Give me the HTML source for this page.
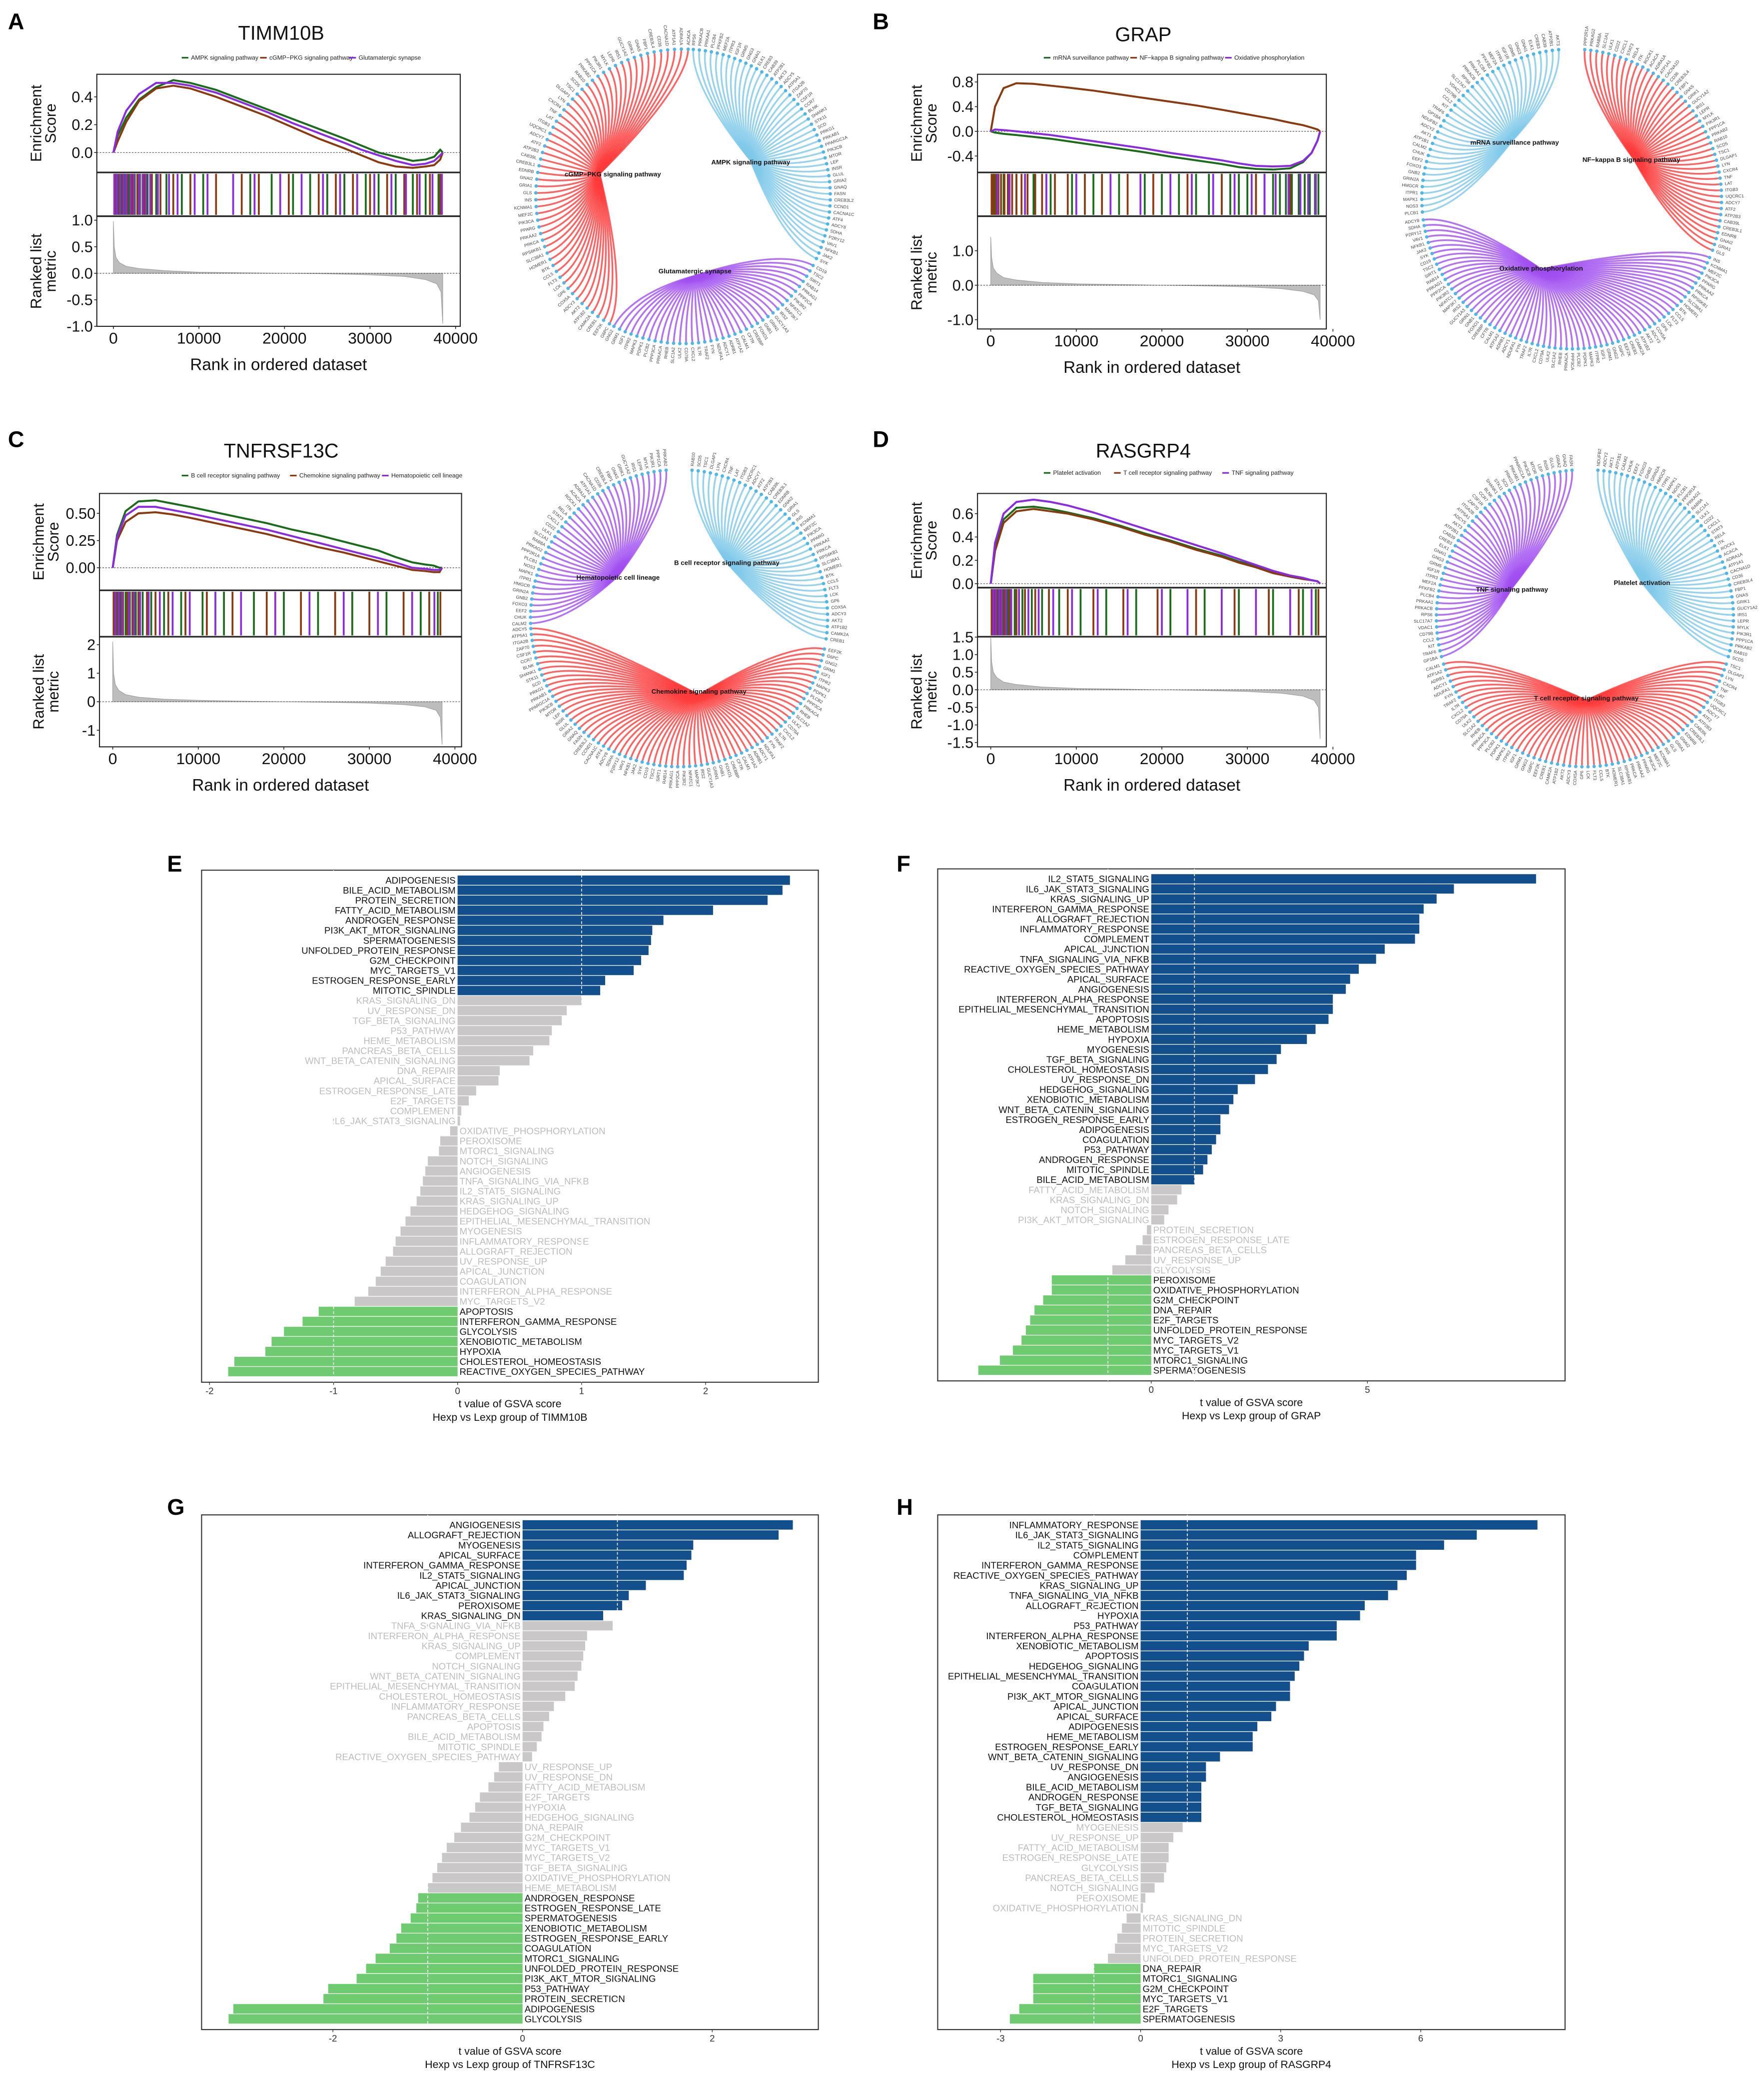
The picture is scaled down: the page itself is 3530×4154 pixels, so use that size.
<!DOCTYPE html>
<html><head><meta charset="utf-8"><title>GSEA and GSVA figure</title>
<style>
html,body{margin:0;padding:0;background:#fff;}
svg{display:block;font-family:"Liberation Sans Narrow","Liberation Sans",sans-serif;}
</style></head>
<body>
<svg id="fig" xmlns="http://www.w3.org/2000/svg" width="3530" height="4154" viewBox="0 0 1330 1565" preserveAspectRatio="none">
<rect x="0" y="0" width="1330" height="1565" fill="#fff"/>
<g font-family="Liberation Sans, sans-serif" font-weight="bold" font-size="17">
<text x="6" y="22">A</text>
<text x="658" y="22">B</text>
<text x="6" y="337">C</text>
<text x="658" y="337">D</text>
<text x="126" y="657">E</text>
<text x="676" y="657">F</text>
<text x="126" y="1142">G</text>
<text x="676" y="1142">H</text>
</g>
</svg>
<script>
// ---------- GSEA data ----------
const esRanks=[0,500,1500,3000,5000,7000,9000,12000,15000,18000,21000,24000,27000,29000,31000,33000,35000,36500,37500,38200,38500];
const metricRanks=[0,100,300,700,1500,3000,6000,10000,15000,20000,25000,30000,34000,36500,37800,38300,38500];
const tickRanks=[0,10000,20000,30000,40000];

const esA_green=[0,0.12,0.25,0.38,0.47,0.52,0.5,0.45,0.38,0.31,0.24,0.17,0.1,0.05,0.0,-0.03,-0.06,-0.05,-0.03,0.02,0];
const esA_brown=[0,0.08,0.22,0.37,0.46,0.48,0.46,0.4,0.33,0.26,0.18,0.1,0.03,-0.02,-0.07,-0.1,-0.11,-0.1,-0.09,-0.05,0];
const esA_purple=[0,0.15,0.3,0.42,0.5,0.5,0.48,0.43,0.36,0.29,0.21,0.14,0.07,0.02,-0.02,-0.06,-0.09,-0.08,-0.06,-0.02,0];
const esB_green=[0,-0.02,-0.04,-0.06,-0.09,-0.12,-0.16,-0.22,-0.28,-0.34,-0.41,-0.47,-0.53,-0.58,-0.61,-0.62,-0.6,-0.5,-0.35,-0.15,0];
const esB_brown=[0,0.4,0.7,0.78,0.77,0.74,0.71,0.66,0.6,0.54,0.48,0.42,0.35,0.3,0.25,0.2,0.14,0.1,0.06,0.03,0];
const esB_purple=[0,0.03,0.02,0.0,-0.03,-0.06,-0.1,-0.16,-0.22,-0.28,-0.35,-0.41,-0.47,-0.52,-0.56,-0.57,-0.56,-0.48,-0.35,-0.15,0];
const esC_green=[0,0.3,0.52,0.61,0.62,0.59,0.56,0.51,0.46,0.41,0.35,0.3,0.24,0.2,0.16,0.1,0.05,0.03,0.02,0.0,0];
const esC_brown=[0,0.25,0.42,0.5,0.51,0.49,0.46,0.41,0.36,0.31,0.25,0.19,0.14,0.1,0.06,0.02,-0.02,-0.03,-0.04,-0.04,0];
const esC_purple=[0,0.28,0.48,0.56,0.56,0.53,0.5,0.45,0.4,0.35,0.29,0.23,0.17,0.13,0.09,0.05,0.0,-0.01,-0.02,-0.02,0];
const esD_green=[0,0.3,0.55,0.65,0.66,0.64,0.61,0.56,0.5,0.43,0.37,0.3,0.24,0.19,0.15,0.1,0.06,0.04,0.03,0.02,0];
const esD_brown=[0,0.28,0.52,0.62,0.64,0.62,0.6,0.55,0.49,0.42,0.36,0.29,0.23,0.18,0.14,0.09,0.06,0.04,0.03,0.02,0];
const esD_purple=[0,0.35,0.6,0.7,0.72,0.7,0.67,0.61,0.54,0.47,0.4,0.33,0.26,0.21,0.16,0.11,0.07,0.05,0.03,0.02,0];

// hit positions, thousands of ranks
const hitA_green=[0.2,0.5,0.9,1.3,1.8,2.5,3.1,4,5,6.2,8,10.5,16,18.5,21,23,25,27,29.5,31,33,35,36.5,38];
const hitA_brown=[0.3,0.7,1.1,1.6,2.2,2.8,3.6,4.5,5.5,7,9,12,15,17,20.5,24,26,28,30,32,34,35.5,37,38.2];
const hitA_purple=[0.1,0.4,0.8,1.2,1.5,2,2.4,3,3.4,3.8,4.3,5.2,6.5,7.5,9.5,11,14,16.5,19.5,22,24.5,26.5,28.5,30.5,32.5,34.2,35.8,37.3,38.4];
const hitB_green=[0.4,1.5,3,5,7,9.5,12,15,18,20,22,24,25.5,27,28,29,30,31,32,33,33.8,34.5,35.2,36,36.7,37.3,37.9,38.3];
const hitB_brown=[0.1,0.3,0.6,0.9,1.2,1.6,2,2.5,3,3.6,4.3,5.2,6,7.5,9,11,13,16,19,23,27,31,35,38];
const hitB_purple=[0.8,2.2,4,6.5,10,14,17.5,21,23.5,26,28.5,30.5,32,33.3,34.8,36.2,37.1,38];
const hitC_green=[0.2,0.6,1,1.5,2,2.7,3.5,4.5,6,8,10.5,13,16.5,20,24,28,32,36,38];
const hitC_brown=[0.1,0.4,0.8,1.2,1.7,2.3,3,4,5,6.5,8.5,11,14,18,22,26,30,34,37,38.3];
const hitC_purple=[0.3,0.7,1.1,1.9,2.5,3.2,4.2,5.5,7,9,12,15,19,23,27,31,35,37.6];
const hitD_green=[0.2,0.5,0.9,1.4,2,2.8,3.7,4.8,6,8,10.5,13.5,17,21,25,29,33,36.5,38];
const hitD_brown=[0.1,0.4,0.7,1.1,1.6,2.2,3,4,5.2,6.8,9,12,15.5,19.5,24,28.5,32.5,36,38.3];
const hitD_purple=[0.3,0.6,1,1.3,1.8,2.4,3.3,4.4,5.6,7.3,9.5,12.5,16,20,23,27,31,35,37.5];

const metricA=[0.98,0.5,0.3,0.2,0.13,0.09,0.05,0.02,0.01,0,-0.01,-0.03,-0.06,-0.12,-0.2,-0.35,-0.95];
const metricB=[1.4,0.8,0.5,0.35,0.22,0.15,0.08,0.04,0.02,0,-0.02,-0.05,-0.1,-0.18,-0.28,-0.45,-1.0];
const metricC=[2.1,1.0,0.6,0.4,0.25,0.16,0.09,0.05,0.02,0,-0.02,-0.05,-0.1,-0.18,-0.3,-0.55,-1.5];
const metricD=[1.5,0.8,0.5,0.35,0.22,0.15,0.08,0.04,0.02,0,-0.02,-0.05,-0.1,-0.18,-0.3,-0.5,-1.4];

const esTicksA=[0.0,0.2,0.4], esTicksB=[-0.4,0.0,0.4,0.8], esTicksC=[0.0,0.25,0.5], esTicksD=[0.0,0.2,0.4,0.6];
const mTicksA=[-1.0,-0.5,0.0,0.5,1.0], mTicksB=[-1.0,0.0,1.0], mTicksC=[-1,0,1,2], mTicksD=[-1.5,-1.0,-0.5,0.0,0.5,1.0,1.5];

// ---------- GSVA bar data ----------
const namesE=["ADIPOGENESIS","BILE_ACID_METABOLISM","PROTEIN_SECRETION","FATTY_ACID_METABOLISM","ANDROGEN_RESPONSE","PI3K_AKT_MTOR_SIGNALING","SPERMATOGENESIS","UNFOLDED_PROTEIN_RESPONSE","G2M_CHECKPOINT","MYC_TARGETS_V1","ESTROGEN_RESPONSE_EARLY","MITOTIC_SPINDLE","KRAS_SIGNALING_DN","UV_RESPONSE_DN","TGF_BETA_SIGNALING","P53_PATHWAY","HEME_METABOLISM","PANCREAS_BETA_CELLS","WNT_BETA_CATENIN_SIGNALING","DNA_REPAIR","APICAL_SURFACE","ESTROGEN_RESPONSE_LATE","E2F_TARGETS","COMPLEMENT","IL6_JAK_STAT3_SIGNALING","OXIDATIVE_PHOSPHORYLATION","PEROXISOME","MTORC1_SIGNALING","NOTCH_SIGNALING","ANGIOGENESIS","TNFA_SIGNALING_VIA_NFKB","IL2_STAT5_SIGNALING","KRAS_SIGNALING_UP","HEDGEHOG_SIGNALING","EPITHELIAL_MESENCHYMAL_TRANSITION","MYOGENESIS","INFLAMMATORY_RESPONSE","ALLOGRAFT_REJECTION","UV_RESPONSE_UP","APICAL_JUNCTION","COAGULATION","INTERFERON_ALPHA_RESPONSE","MYC_TARGETS_V2","APOPTOSIS","INTERFERON_GAMMA_RESPONSE","GLYCOLYSIS","XENOBIOTIC_METABOLISM","HYPOXIA","CHOLESTEROL_HOMEOSTASIS","REACTIVE_OXYGEN_SPECIES_PATHWAY"];
const valuesE=[2.68,2.62,2.5,2.06,1.66,1.57,1.56,1.54,1.48,1.42,1.19,1.15,1.0,0.88,0.84,0.76,0.74,0.61,0.58,0.34,0.33,0.15,0.09,0.03,0.02,-0.06,-0.14,-0.15,-0.24,-0.26,-0.28,-0.3,-0.33,-0.38,-0.42,-0.46,-0.5,-0.52,-0.58,-0.62,-0.66,-0.72,-0.83,-1.12,-1.25,-1.4,-1.5,-1.55,-1.8,-1.85];
const nUpE=12, nDownE=7, ticksE=[-2,-1,0,1,2];

const namesF=["IL2_STAT5_SIGNALING","IL6_JAK_STAT3_SIGNALING","KRAS_SIGNALING_UP","INTERFERON_GAMMA_RESPONSE","ALLOGRAFT_REJECTION","INFLAMMATORY_RESPONSE","COMPLEMENT","APICAL_JUNCTION","TNFA_SIGNALING_VIA_NFKB","REACTIVE_OXYGEN_SPECIES_PATHWAY","APICAL_SURFACE","ANGIOGENESIS","INTERFERON_ALPHA_RESPONSE","EPITHELIAL_MESENCHYMAL_TRANSITION","APOPTOSIS","HEME_METABOLISM","HYPOXIA","MYOGENESIS","TGF_BETA_SIGNALING","CHOLESTEROL_HOMEOSTASIS","UV_RESPONSE_DN","HEDGEHOG_SIGNALING","XENOBIOTIC_METABOLISM","WNT_BETA_CATENIN_SIGNALING","ESTROGEN_RESPONSE_EARLY","ADIPOGENESIS","COAGULATION","P53_PATHWAY","ANDROGEN_RESPONSE","MITOTIC_SPINDLE","BILE_ACID_METABOLISM","FATTY_ACID_METABOLISM","KRAS_SIGNALING_DN","NOTCH_SIGNALING","PI3K_AKT_MTOR_SIGNALING","PROTEIN_SECRETION","ESTROGEN_RESPONSE_LATE","PANCREAS_BETA_CELLS","UV_RESPONSE_UP","GLYCOLYSIS","PEROXISOME","OXIDATIVE_PHOSPHORYLATION","G2M_CHECKPOINT","DNA_REPAIR","E2F_TARGETS","UNFOLDED_PROTEIN_RESPONSE","MYC_TARGETS_V2","MYC_TARGETS_V1","MTORC1_SIGNALING","SPERMATOGENESIS"];
const valuesF=[8.9,7.0,6.6,6.3,6.2,6.2,6.1,5.4,5.2,4.8,4.6,4.5,4.2,4.2,4.1,3.8,3.6,3.0,2.9,2.7,2.4,2.0,1.9,1.8,1.6,1.6,1.5,1.4,1.3,1.2,1.0,0.7,0.6,0.4,0.3,-0.1,-0.2,-0.35,-0.6,-0.9,-2.3,-2.3,-2.5,-2.7,-2.8,-2.9,-3.0,-3.2,-3.5,-4.0];
const nUpF=31, nDownF=10, ticksF=[0,5];

const namesG=["ANGIOGENESIS","ALLOGRAFT_REJECTION","MYOGENESIS","APICAL_SURFACE","INTERFERON_GAMMA_RESPONSE","IL2_STAT5_SIGNALING","APICAL_JUNCTION","IL6_JAK_STAT3_SIGNALING","PEROXISOME","KRAS_SIGNALING_DN","TNFA_SIGNALING_VIA_NFKB","INTERFERON_ALPHA_RESPONSE","KRAS_SIGNALING_UP","COMPLEMENT","NOTCH_SIGNALING","WNT_BETA_CATENIN_SIGNALING","EPITHELIAL_MESENCHYMAL_TRANSITION","CHOLESTEROL_HOMEOSTASIS","INFLAMMATORY_RESPONSE","PANCREAS_BETA_CELLS","APOPTOSIS","BILE_ACID_METABOLISM","MITOTIC_SPINDLE","REACTIVE_OXYGEN_SPECIES_PATHWAY","UV_RESPONSE_UP","UV_RESPONSE_DN","FATTY_ACID_METABOLISM","E2F_TARGETS","HYPOXIA","HEDGEHOG_SIGNALING","DNA_REPAIR","G2M_CHECKPOINT","MYC_TARGETS_V1","MYC_TARGETS_V2","TGF_BETA_SIGNALING","OXIDATIVE_PHOSPHORYLATION","HEME_METABOLISM","ANDROGEN_RESPONSE","ESTROGEN_RESPONSE_LATE","SPERMATOGENESIS","XENOBIOTIC_METABOLISM","ESTROGEN_RESPONSE_EARLY","COAGULATION","MTORC1_SIGNALING","UNFOLDED_PROTEIN_RESPONSE","PI3K_AKT_MTOR_SIGNALING","P53_PATHWAY","PROTEIN_SECRETION","ADIPOGENESIS","GLYCOLYSIS"];
const valuesG=[2.85,2.7,1.8,1.78,1.73,1.7,1.3,1.12,1.05,0.85,0.95,0.68,0.66,0.64,0.62,0.58,0.55,0.45,0.33,0.28,0.22,0.2,0.15,0.1,-0.25,-0.3,-0.36,-0.45,-0.5,-0.56,-0.65,-0.72,-0.8,-0.85,-0.9,-0.95,-1.0,-1.1,-1.12,-1.18,-1.28,-1.33,-1.4,-1.55,-1.65,-1.75,-2.05,-2.1,-3.05,-3.1];
const nUpG=10, nDownG=13, ticksG=[-2,0,2];

const namesH=["INFLAMMATORY_RESPONSE","IL6_JAK_STAT3_SIGNALING","IL2_STAT5_SIGNALING","COMPLEMENT","INTERFERON_GAMMA_RESPONSE","REACTIVE_OXYGEN_SPECIES_PATHWAY","KRAS_SIGNALING_UP","TNFA_SIGNALING_VIA_NFKB","ALLOGRAFT_REJECTION","HYPOXIA","P53_PATHWAY","INTERFERON_ALPHA_RESPONSE","XENOBIOTIC_METABOLISM","APOPTOSIS","HEDGEHOG_SIGNALING","EPITHELIAL_MESENCHYMAL_TRANSITION","COAGULATION","PI3K_AKT_MTOR_SIGNALING","APICAL_JUNCTION","APICAL_SURFACE","ADIPOGENESIS","HEME_METABOLISM","ESTROGEN_RESPONSE_EARLY","WNT_BETA_CATENIN_SIGNALING","UV_RESPONSE_DN","ANGIOGENESIS","BILE_ACID_METABOLISM","ANDROGEN_RESPONSE","TGF_BETA_SIGNALING","CHOLESTEROL_HOMEOSTASIS","MYOGENESIS","UV_RESPONSE_UP","FATTY_ACID_METABOLISM","ESTROGEN_RESPONSE_LATE","GLYCOLYSIS","PANCREAS_BETA_CELLS","NOTCH_SIGNALING","PEROXISOME","OXIDATIVE_PHOSPHORYLATION","KRAS_SIGNALING_DN","MITOTIC_SPINDLE","PROTEIN_SECRETION","MYC_TARGETS_V2","UNFOLDED_PROTEIN_RESPONSE","DNA_REPAIR","MTORC1_SIGNALING","G2M_CHECKPOINT","MYC_TARGETS_V1","E2F_TARGETS","SPERMATOGENESIS"];
const valuesH=[8.5,7.2,6.5,5.9,5.9,5.7,5.5,5.3,4.8,4.7,4.2,4.2,3.6,3.5,3.4,3.3,3.2,3.2,2.9,2.8,2.5,2.4,2.4,1.7,1.4,1.4,1.3,1.3,1.3,1.3,0.9,0.7,0.6,0.6,0.55,0.5,0.3,0.1,0.05,-0.3,-0.4,-0.5,-0.55,-0.7,-1.0,-2.3,-2.3,-2.3,-2.6,-2.8];
const nUpH=30, nDownH=6, ticksH=[-3,0,3,6];

const genePool="ACACA ADCY1 ADCY2 ADCY3 ADCY5 ADCY7 ADCY8 ADRA1A ADRB1 AKT1 AKT2 AKT3 ATF2 ATF4 ATP1A1 ATP1A2 ATP1B1 ATP1B2 ATP2B1 ATP2B3 CACNA1C CACNA1D CALM1 CALM2 CAMK2A CAB39 CAB39L CCND1 CD36 CFTR CHUK CREB1 CREB3 CREB3L1 CREB3L2 CREB3L4 CREBBP EEF2 EEF2K ELK1 EDNRB FASN FBP1 FOXO1 FOXO3 G6PC GNAI1 GNAI2 GNAQ GNAS GNB1 GNB2 GNG2 GNG3 GRIA1 GRIA2 GRIK1 GRIN1 GRIN2A GRM1 GRM5 GLS GLUL GUCY1A2 GUCY1A3 HMGCR IGF1 IGF1R INS INSR IRS1 IRS2 ITPR1 ITPR2 ITPR3 KCNMA1 LEP LEPR MAP3K7 MAPK1 MAPK3 MEF2A MEF2C MTOR MYLK NFATC1 NOS3 PDPK1 PFKFB2 PIK3CA PIK3CB PIK3R1 PIK3R2 PLCB1 PLCB2 PLCB4 PPARG PPARGC1A PPP1CA PPP2CA PPP2R1A PPP3CA PRKAA1 PRKAA2 PRKAB1 PRKAB2 PRKAG1 PRKAG2 PRKACA PRKACB PRKCA PRKG1 RAB10 RAB14 RAB8A RHEB RPS6 RPS6KB1 SCD SCD5 SIRT1 SLC1A1 SLC1A2 SLC17A7 SLC38A1 STK11 TSC1 TSC2 ULK1 ULK2 VDAC1 HOMER1 SHANK1 DLGAP1 CD19 CD22 CD79A CD79B BTK BLNK LYN SYK CXCL1 CXCL2 CCL2 CCL5 CCR7 CXCR4 JAK2 STAT3 IL7R KIT FLT3 CSF1R TNF NFKB1 RELA TRAF2 TRAF6 LCK ZAP70 LAT VAV1 ITK FYN GP1BA GP6 ITGA2B ITGB3 P2RY12 ROCK1 NDUFA1 NDUFB2 COX5A ATP5A1 UQCRC1 SDHA".split(" ");

// ---------- helpers ----------
const NS="http://www.w3.org/2000/svg";
const svg=document.getElementById("fig");
function el(tag,attrs,parent,text){const e=document.createElementNS(NS,tag);for(const k in attrs)e.setAttribute(k,attrs[k]);if(text!==undefined)e.textContent=text;(parent||svg).appendChild(e);return e;}

const COL={green:"#1a6b1a",brown:"#8b3a10",purple:"#8a2be2"};

function gsea(p){
  const g=el("g",{});
  
  
  const xr=r=>p.xa+r/40000*(p.xb-p.xa);
  const ey=v=>p.es0-v*p.esk;
  const my=v=>p.m0-v*p.mk;
  const t=el("text",{x:p.tx,y:p.ty,"font-size":15,"text-anchor":"middle",fill:"#111"},g,p.title);
  
  const lg=el("g",{},g);
  
  let lx=p.tx-p.legW/2;
  p.leg.forEach(([c,name])=>{
    el("line",{x1:lx,y1:p.ly-1.5,x2:lx+5,y2:p.ly-1.5,stroke:COL[c],"stroke-width":1.2},lg);
    const tt=el("text",{x:lx+7,y:p.ly,"font-size":4.6,fill:"#222"},lg,name);
    
    lx+=9+name.length*2.05+5;
  });
  el("rect",{x:p.x0,y:p.top,width:p.x1-p.x0,height:p.bot-p.top,fill:"none",stroke:"#222","stroke-width":0.8},g);
  el("line",{x1:p.x0,x2:p.x1,y1:p.esb,y2:p.esb,stroke:"#222","stroke-width":1.2},g);
  el("line",{x1:p.x0,x2:p.x1,y1:p.hitb,y2:p.hitb,stroke:"#222","stroke-width":1.2},g);
  el("line",{x1:p.x0,x2:p.x1,y1:ey(0),y2:ey(0),stroke:"#555","stroke-width":0.5,"stroke-dasharray":"1.2,1"},g);
  p.hits.forEach(([c,arr])=>arr.forEach(h=>{
    const l=el("line",{x1:xr(h*1000),x2:xr(h*1000),y1:p.esb+1,y2:p.hitb-1,stroke:COL[c],"stroke-width":1.4},g);
    
  }));
  p.es.forEach(([c,arr])=>{
    const pts=arr.map((v,i)=>xr(esRanks[i]).toFixed(2)+","+ey(v).toFixed(2)).join(" ");
    const pl=el("polyline",{points:pts,fill:"none",stroke:COL[c],"stroke-width":1.5},g);
    
  });
  let d="M"+xr(0)+","+my(0);
  p.metric.forEach((v,i)=>{d+=" L"+xr(metricRanks[i]).toFixed(2)+","+my(v).toFixed(2);});
  d+=" L"+xr(metricRanks[metricRanks.length-1])+","+my(0)+" Z";
  const ar=el("path",{d:d,fill:"#bdbdbd",stroke:"#9a9a9a","stroke-width":0.4},g);
  
  el("line",{x1:p.x0,x2:p.x1,y1:my(0),y2:my(0),stroke:"#555","stroke-width":0.5,"stroke-dasharray":"1.2,1"},g);
  p.esTicks.forEach(v=>{
    el("line",{x1:p.x0-2,x2:p.x0,y1:ey(v),y2:ey(v),stroke:"#222","stroke-width":0.6},g);
    const tt=el("text",{x:p.x0-3,y:ey(v)+4,"font-size":p.fs,"text-anchor":"end",fill:"#111"},g,p.fmtE(v));
    
  });
  p.mTicks.forEach(v=>{
    el("line",{x1:p.x0-2,x2:p.x0,y1:my(v),y2:my(v),stroke:"#222","stroke-width":0.6},g);
    const tt=el("text",{x:p.x0-3,y:my(v)+4,"font-size":p.fs,"text-anchor":"end",fill:"#111"},g,p.fmtM(v));
    
  });
  tickRanks.forEach(r=>{
    el("line",{x1:xr(r),x2:xr(r),y1:p.bot,y2:p.bot+2,stroke:"#222","stroke-width":0.6},g);
    const tt=el("text",{x:xr(r),y:p.bot+13,"font-size":12,"text-anchor":"middle",fill:"#111"},g,String(r));
    
  });
  const xl=el("text",{x:(p.x0+p.x1)/2,y:p.bot+33,"font-size":12.5,"text-anchor":"middle",fill:"#111"},g,"Rank in ordered dataset");
  
  const ec=(p.top+p.esb)/2, mc=(p.hitb+p.bot)/2, yx=p.x0-42;
  const y1=el("text",{transform:`translate(${yx},${ec}) rotate(-90)`,"font-size":11.5,"text-anchor":"middle",fill:"#111","font-family":"Liberation Sans, sans-serif"},g);
  
  el("tspan",{x:0,dy:0},y1,"Enrichment");el("tspan",{x:0,dy:11},y1,"Score");
  const y2=el("text",{transform:`translate(${yx},${mc}) rotate(-90)`,"font-size":11.5,"text-anchor":"middle",fill:"#111","font-family":"Liberation Sans, sans-serif"},g);
  
  el("tspan",{x:0,dy:0},y2,"Ranked list");el("tspan",{x:0,dy:11},y2,"metric");
}

function chord(c){
  const g=el("g",{});
  
  
  let gi=c.offset;
  const lines=el("g",{},g), dots=el("g",{},g), labs=el("g",{},g);
  c.groups.forEach(gr=>{
    let a0=gr.a0,a1=gr.a1; const n=gr.n;
    for(let i=0;i<n;i++){
      const a=(a0+(a1-a0)*i/(n-1))*Math.PI/180;
      const px=c.cx+c.R*Math.cos(a), py=c.cy+c.R*Math.sin(a);
      const qx=c.cx+(c.R*0.72)*Math.cos(a), qy=c.cy+(c.R*0.72)*Math.sin(a);
      const ln=el("path",{d:`M${px.toFixed(2)},${py.toFixed(2)} C${qx.toFixed(2)},${qy.toFixed(2)} ${gr.hx},${gr.hy} ${gr.hx},${gr.hy}`,fill:"none",stroke:gr.col,"stroke-width":1.3,"stroke-opacity":0.8},lines);
      
      el("circle",{cx:px.toFixed(2),cy:py.toFixed(2),r:1.3,fill:"#4fb6e8"},dots);
      const deg=a*180/Math.PI; const flip=(Math.cos(a)<0);
      const lx=c.cx+(c.R+3)*Math.cos(a), ly=c.cy+(c.R+3)*Math.sin(a);
      const name=genePool[gi%genePool.length]; gi+=7;
      const tt=el("text",{x:0,y:0,"font-size":3.3,fill:"#444","text-anchor":flip?"end":"start",transform:`translate(${lx.toFixed(2)},${ly.toFixed(2)}) rotate(${(flip?deg+180:deg).toFixed(1)}) translate(0,1.1)`},labs,name);
      
    }
    const hl=el("text",{x:gr.lx,y:gr.ly,"font-size":5,"font-weight":"bold","text-anchor":"middle",fill:"#111","font-family":"Liberation Sans, sans-serif"},g,gr.name);
    
  });
}

function bars(b){
  const g=el("g",{});
  
  
  const N=b.names.length;
  const xs=v=>b.zx+v*b.k;
  const step=(b.bot-b.top-8)/N;
  el("rect",{x:b.x0,y:b.top,width:b.x1-b.x0,height:b.bot-b.top,fill:"#fff",stroke:"#333","stroke-width":0.8},g);
  b.names.forEach((nm,i)=>{
    const v=b.values[i];
    const cls=i<b.nUp?"up":(i>=N-b.nDown?"down":"ns");
    const fill=cls==="up"?"#134f8c":cls==="down"?"#6fcb6f":"#c9c7c7";
    const y=b.top+4+i*step;
    const r=el("rect",{x:Math.min(xs(0),xs(v)).toFixed(2),y:y.toFixed(2),width:Math.abs(xs(v)-xs(0)).toFixed(2),height:(step-0.5).toFixed(2),fill:fill},g);
    
    
    const tx=v>=0?xs(0)-1.5:xs(0)+1.5;
    const t=el("text",{x:tx.toFixed(2),y:(y+step*0.8).toFixed(2),"font-size":7,"text-anchor":v>=0?"end":"start",fill:cls==="ns"?"#bdbdbd":"#111"},g,nm);
    
  });
  [-1,1].forEach(v=>{
    el("line",{x1:xs(v),x2:xs(v),y1:b.top,y2:b.bot,stroke:"#fff","stroke-width":0.6,"stroke-dasharray":"2,1.5"},g);
  });
  b.ticks.forEach(v=>{
    el("line",{x1:xs(v),x2:xs(v),y1:b.bot,y2:b.bot+2,stroke:"#333","stroke-width":0.5},g);
    const t=el("text",{x:xs(v),y:b.bot+9,"font-size":7,"text-anchor":"middle",fill:"#333"},g,String(v));
    
  });
  const cx=(b.x0+b.x1)/2;
  const t1=el("text",{x:cx,y:b.bot+19,"font-size":8,"text-anchor":"middle",fill:"#111"},g,"t value of GSVA score");
  
  const t2=el("text",{x:cx,y:b.bot+29,"font-size":8,"text-anchor":"middle",fill:"#111"},g,"Hexp vs Lexp group of "+b.gene);
  
}

const f2=v=>v.toFixed(1), f3=v=>v.toFixed(2), f0=v=>String(v);
gsea({id:"a",title:"TIMM10B",tx:212,ty:30,ly:45,legW:150,leg:[["green","AMPK signaling pathway"],["brown","cGMP−PKG signaling pathway"],["purple","Glutamatergic synapse"]],
 x0:73,x1:347,xa:85.5,xb:343.5,top:56,esb:130,hitb:163,bot:246,es0:115,esk:105,m0:206,mk:40,fs:11.5,
 es:[["green",esA_green],["brown",esA_brown],["purple",esA_purple]],hits:[["green",hitA_green],["brown",hitA_brown],["purple",hitA_purple]],
 metric:metricA,esTicks:esTicksA,mTicks:mTicksA,fmtE:f2,fmtM:f2});
gsea({id:"b",title:"GRAP",tx:862,ty:31,ly:45,legW:150,leg:[["green","mRNA surveillance pathway"],["brown","NF−kappa B signaling pathway"],["purple","Oxidative phosphorylation"]],
 x0:737,x1:1000,xa:747,xb:1005,top:56,esb:130,hitb:163,bot:248,es0:99,esk:46.5,m0:215,mk:26,fs:11.5,
 es:[["green",esB_green],["brown",esB_brown],["purple",esB_purple]],hits:[["green",hitB_green],["brown",hitB_brown],["purple",hitB_purple]],
 metric:metricB,esTicks:esTicksB,mTicks:mTicksB,fmtE:f2,fmtM:f2});
gsea({id:"c",title:"TNFRSF13C",tx:212,ty:345,ly:360,legW:150,leg:[["green","B cell receptor signaling pathway"],["brown","Chemokine signaling pathway"],["purple","Hematopoietic cell lineage"]],
 x0:75,x1:348,xa:85,xb:343,top:372,esb:445,hitb:480,bot:563,es0:428,esk:82,m0:529,mk:21.5,fs:11.5,
 es:[["green",esC_green],["brown",esC_brown],["purple",esC_purple]],hits:[["green",hitC_green],["brown",hitC_brown],["purple",hitC_purple]],
 metric:metricC,esTicks:esTicksC,mTicks:mTicksC,fmtE:f3,fmtM:f0});
gsea({id:"d",title:"RASGRP4",tx:862,ty:345,ly:358,legW:150,leg:[["green","Platelet activation"],["brown","T cell receptor signaling pathway"],["purple","TNF signaling pathway"]],
 x0:737,x1:1000,xa:747,xb:1005,top:372,esb:443,hitb:480,bot:563,es0:440,esk:88,m0:520,mk:26.5,fs:11.5,
 es:[["green",esD_green],["brown",esD_brown],["purple",esD_purple]],hits:[["green",hitD_green],["brown",hitD_brown],["purple",hitD_purple]],
 metric:metricD,esTicks:esTicksD,mTicks:mTicksD,fmtE:f2,fmtM:f2});

chord({id:"a",cx:515,cy:148,R:111,offset:0,groups:[
 {name:"cGMP−PKG signaling pathway",col:"#ff3b3b",a0:-88,a1:-240,n:58,hx:452,hy:131,lx:462,ly:133},
 {name:"Glutamatergic synapse",col:"#a04ef0",a0:118,a1:28,n:38,hx:524,hy:208,lx:524,ly:206},
 {name:"AMPK signaling pathway",col:"#7ec8ea",a0:25,a1:-86,n:48,hx:566,hy:121,lx:566,ly:124}]});
chord({id:"b",cx:1185,cy:150,R:113,offset:11,groups:[
 {name:"mRNA surveillance pathway",col:"#7ec8ea",a0:-95,a1:-185,n:38,hx:1140,hy:106,lx:1142,ly:109},
 {name:"NF−kappa B signaling pathway",col:"#ff3b3b",a0:-85,a1:20,n:46,hx:1232,hy:120,lx:1230,ly:122},
 {name:"Oxidative phosphorylation",col:"#a04ef0",a0:23,a1:172,n:68,hx:1162,hy:203,lx:1162,ly:204}]});
chord({id:"c",cx:512,cy:466,R:112,offset:23,groups:[
 {name:"Hematopoietic cell lineage",col:"#a04ef0",a0:-182,a1:-95,n:38,hx:466,hy:434,lx:466,ly:437},
 {name:"B cell receptor signaling pathway",col:"#7ec8ea",a0:-85,a1:8,n:40,hx:548,hy:424,lx:548,ly:426},
 {name:"Chemokine signaling pathway",col:"#ff3b3b",a0:12,a1:176,n:72,hx:527,hy:524,lx:527,ly:523}]});
chord({id:"d",cx:1195,cy:466,R:112,offset:41,groups:[
 {name:"TNF signaling pathway",col:"#a04ef0",a0:-95,a1:-195,n:44,hx:1140,hy:443,lx:1140,ly:446},
 {name:"Platelet activation",col:"#7ec8ea",a0:-85,a1:15,n:44,hx:1238,hy:439,lx:1238,ly:441},
 {name:"T cell receptor signaling pathway",col:"#ff3b3b",a0:18,a1:162,n:62,hx:1196,hy:528,lx:1196,ly:528}]});

bars({id:"e",gene:"TIMM10B",names:namesE,values:valuesE,nUp:nUpE,nDown:nDownE,ticks:ticksE,x0:152,x1:617,top:656,bot:1042,zx:345,k:93.5});
bars({id:"f",gene:"GRAP",names:namesF,values:valuesF,nUp:nUpF,nDown:nDownF,ticks:ticksF,x0:707,x1:1180,top:655,bot:1041,zx:868,k:32.6});
bars({id:"g",gene:"TNFRSF13C",names:namesG,values:valuesG,nUp:nUpG,nDown:nDownG,ticks:ticksG,x0:152,x1:617,top:1142,bot:1530,zx:394,k:71.5});
bars({id:"h",gene:"RASGRP4",names:namesH,values:valuesH,nUp:nUpH,nDown:nDownH,ticks:ticksH,x0:707,x1:1180,top:1142,bot:1530,zx:860,k:35.2});
</script>
</body></html>
